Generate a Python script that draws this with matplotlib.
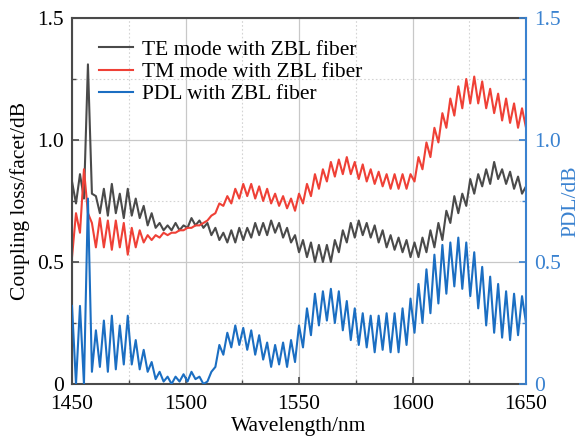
import matplotlib
matplotlib.use('Agg')
import matplotlib.pyplot as plt
import numpy as np
from matplotlib.ticker import MultipleLocator

# wavelength sample grid (nm), one point per half fringe
wavelength = np.linspace(1450, 1650, 115)

te_loss = [0.83, 0.74, 0.86, 0.76, 1.31, 0.78, 0.77, 0.70, 0.80, 0.69,
           0.82, 0.70, 0.78, 0.68, 0.80, 0.69, 0.76, 0.68, 0.73, 0.65,
           0.70, 0.64, 0.66, 0.63, 0.65, 0.63, 0.66, 0.63, 0.65, 0.64,
           0.68, 0.65, 0.67, 0.64, 0.66, 0.61, 0.64, 0.59, 0.62, 0.58,
           0.63, 0.58, 0.64, 0.59, 0.64, 0.60, 0.66, 0.61, 0.66, 0.61,
           0.67, 0.62, 0.66, 0.60, 0.64, 0.58, 0.61, 0.54, 0.59, 0.52,
           0.58, 0.50, 0.57, 0.50, 0.57, 0.50, 0.59, 0.54, 0.63, 0.58,
           0.66, 0.60, 0.67, 0.61, 0.66, 0.60, 0.65, 0.58, 0.63, 0.56,
           0.61, 0.55, 0.60, 0.54, 0.59, 0.52, 0.58, 0.52, 0.60, 0.54,
           0.63, 0.56, 0.66, 0.59, 0.71, 0.66, 0.77, 0.70, 0.78, 0.73,
           0.84, 0.78, 0.86, 0.81, 0.88, 0.82, 0.91, 0.84, 0.88, 0.82,
           0.87, 0.80, 0.85, 0.78, 0.81]

tm_loss = [0.52, 0.70, 0.62, 0.88, 0.70, 0.66, 0.56, 0.68, 0.56, 0.67,
           0.55, 0.67, 0.56, 0.66, 0.53, 0.64, 0.56, 0.63, 0.58, 0.61,
           0.59, 0.61, 0.60, 0.62, 0.61, 0.62, 0.62, 0.63, 0.63, 0.64,
           0.64, 0.65, 0.65, 0.66, 0.67, 0.69, 0.70, 0.74, 0.73, 0.77,
           0.74, 0.80, 0.76, 0.82, 0.77, 0.82, 0.76, 0.81, 0.75, 0.80,
           0.74, 0.78, 0.73, 0.77, 0.72, 0.76, 0.71, 0.78, 0.74, 0.82,
           0.77, 0.86, 0.80, 0.88, 0.83, 0.91, 0.85, 0.92, 0.86, 0.93,
           0.86, 0.91, 0.84, 0.90, 0.83, 0.88, 0.82, 0.87, 0.81, 0.86,
           0.80, 0.86, 0.80, 0.86, 0.80, 0.86, 0.83, 0.93, 0.88, 0.99,
           0.93, 1.05, 0.99, 1.11, 1.05, 1.17, 1.10, 1.22, 1.13, 1.25,
           1.15, 1.26, 1.15, 1.24, 1.13, 1.21, 1.11, 1.19, 1.08, 1.17,
           1.07, 1.15, 1.05, 1.13, 1.05]

pdl = [0.32, 0.00, 0.32, 0.00, 0.76, 0.05, 0.22, 0.07, 0.26, 0.05,
       0.28, 0.06, 0.24, 0.08, 0.28, 0.08, 0.18, 0.06, 0.14, 0.05,
       0.09, 0.02, 0.05, 0.01, 0.03, 0.00, 0.03, 0.01, 0.04, 0.01,
       0.05, 0.02, 0.03, 0.00, 0.01, 0.05, 0.07, 0.16, 0.12, 0.21,
       0.15, 0.24, 0.16, 0.23, 0.14, 0.22, 0.12, 0.20, 0.10, 0.17,
       0.07, 0.16, 0.08, 0.17, 0.07, 0.18, 0.09, 0.24, 0.15, 0.31,
       0.20, 0.37, 0.24, 0.38, 0.26, 0.39, 0.25, 0.38, 0.22, 0.34,
       0.18, 0.31, 0.16, 0.29, 0.15, 0.28, 0.13, 0.28, 0.14, 0.29,
       0.13, 0.29, 0.13, 0.31, 0.16, 0.35, 0.21, 0.41, 0.25, 0.47,
       0.29, 0.53, 0.33, 0.57, 0.37, 0.58, 0.40, 0.60, 0.39, 0.58,
       0.36, 0.54, 0.31, 0.48, 0.24, 0.44, 0.21, 0.41, 0.19, 0.38,
       0.18, 0.37, 0.20, 0.36, 0.25]

labels = ['TE mode with ZBL fiber', 'TM mode with ZBL fiber', 'PDL with ZBL fiber']
yticks = [0, 0.5, 1.0, 1.5]
yticklabels = ['0', '0.5', '1.0', '1.5']

GRAY = '#4a4a4a'
RED = '#ef4036'
BLUE = '#1b6ec2'
AXBLUE = '#3a82d0'

plt.rcParams['font.family'] = ['Liberation Serif', 'DejaVu Serif']
plt.rcParams['font.size'] = 15.5

fig = plt.figure(figsize=(5.84, 4.38), dpi=100)
ax = fig.add_axes([0.1233, 0.1233, 0.7774, 0.8356])
ax2 = ax.twinx()

style = dict(lw=1.5, solid_joinstyle='round')
l1, = ax.plot(wavelength, te_loss, color=GRAY, **style)
l2, = ax.plot(wavelength, tm_loss, color=RED, **style)
l3, = ax2.plot(wavelength, pdl, color=BLUE, **style)

ax.set_xlim(1450, 1650)
ax.set_ylim(0, 1.5)
ax2.set_ylim(0, 1.5)

ax.xaxis.set_major_locator(MultipleLocator(50))
ax.xaxis.set_minor_locator(MultipleLocator(25))
ax.set_yticks(yticks)
ax.set_yticklabels(yticklabels)
ax.yaxis.set_minor_locator(MultipleLocator(0.25))
ax2.set_yticks(yticks)
ax2.set_yticklabels(yticklabels)
ax2.yaxis.set_minor_locator(MultipleLocator(0.25))

ax.grid(which='major', color='#c8c8c8', lw=0.9, ls='-')
ax.grid(which='minor', color='#d4d4d4', lw=0.8, ls=(0, (1.5, 2)))
ax.set_axisbelow(True)

ax.tick_params(which='both', direction='in', top=False, right=False,
               color=GRAY)
ax.tick_params(axis='y', pad=6)
ax.tick_params(axis='x', pad=8)
ax.tick_params(which='major', length=5, width=1.2)
ax.tick_params(which='minor', length=3, width=1.0)
ax2.tick_params(which='both', direction='in', colors=AXBLUE, pad=6)
ax2.tick_params(which='major', length=5, width=1.2)
ax2.tick_params(which='minor', length=3, width=1.0)

for side in ['left', 'bottom', 'top']:
    ax.spines[side].set_color(GRAY)
    ax.spines[side].set_linewidth(1.5)
    ax2.spines[side].set_visible(False)
ax.spines['right'].set_visible(False)
ax2.spines['right'].set_color(AXBLUE)
ax2.spines['right'].set_linewidth(1.5)

ax.set_xlabel('Wavelength/nm', labelpad=2)
ax.set_ylabel('Coupling loss/facet/dB', labelpad=5)
ax2.set_ylabel('PDL/dB', color=AXBLUE, labelpad=0)

ax.legend([l1, l2, l3], labels, loc='upper left', bbox_to_anchor=(0.06, 0.94),
          frameon=False, handlelength=1.55, handletextpad=0.45,
          labelspacing=0.1, borderpad=0, borderaxespad=0)

fig.savefig('out.png', dpi=100)
